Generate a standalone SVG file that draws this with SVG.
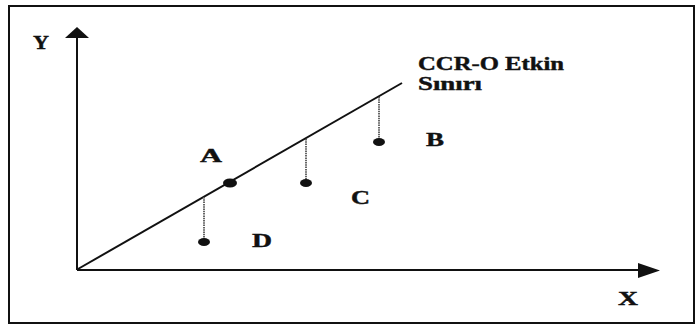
<svg xmlns="http://www.w3.org/2000/svg" width="696" height="327" viewBox="0 0 696 327">
<style>
.lbl{font-family:"Liberation Serif","Times New Roman",serif;font-weight:bold;font-size:18px;fill:#111;stroke:#111;stroke-width:0.4}
.axis{stroke:#111;stroke-width:2;fill:none}
.drop{stroke:#555;stroke-width:1.8;stroke-dasharray:1.5 0.8;fill:none}
.dot{fill:#111}
</style>
<rect x="9" y="6" width="685" height="317" fill="#fff" stroke="#111" stroke-width="2"/>
<g id="connectors">
<line class="axis" x1="77" y1="270" x2="77" y2="37"/>
<polygon points="65,38 77,27 89,38" fill="#111"/>
<line class="axis" x1="77" y1="270" x2="640" y2="270"/>
<polygon points="638,263 660,270.5 638,278" fill="#111"/>
<line class="axis" x1="78" y1="269" x2="402" y2="83"/>
<line class="drop" x1="204" y1="197" x2="204" y2="240"/>
<line class="drop" x1="306" y1="139" x2="306" y2="181"/>
<line class="drop" x1="379" y1="97" x2="379" y2="140"/>
</g>
<g id="axis-y"><text class="lbl" x="33" y="49" textLength="16" lengthAdjust="spacingAndGlyphs">Y</text></g>
<g id="axis-x"><text class="lbl" x="618" y="305" textLength="20" lengthAdjust="spacingAndGlyphs">X</text></g>
<g id="frontier"><text class="lbl" x="418" y="70" textLength="146" lengthAdjust="spacingAndGlyphs">CCR-O Etkin</text><text class="lbl" x="418" y="90" textLength="64" lengthAdjust="spacingAndGlyphs">Sınırı</text></g>
<g id="A"><ellipse class="dot" cx="230" cy="183" rx="7" ry="4.5"/><text class="lbl" x="200" y="162" textLength="22" lengthAdjust="spacingAndGlyphs">A</text></g>
<g id="B"><ellipse class="dot" cx="379" cy="142" rx="6" ry="4"/><text class="lbl" x="426" y="146" textLength="18" lengthAdjust="spacingAndGlyphs">B</text></g>
<g id="C"><ellipse class="dot" cx="306" cy="183" rx="6" ry="4"/><text class="lbl" x="351" y="204" textLength="19" lengthAdjust="spacingAndGlyphs">C</text></g>
<g id="D"><ellipse class="dot" cx="204" cy="242" rx="6" ry="4"/><text class="lbl" x="252" y="247" textLength="20" lengthAdjust="spacingAndGlyphs">D</text></g>
</svg>
